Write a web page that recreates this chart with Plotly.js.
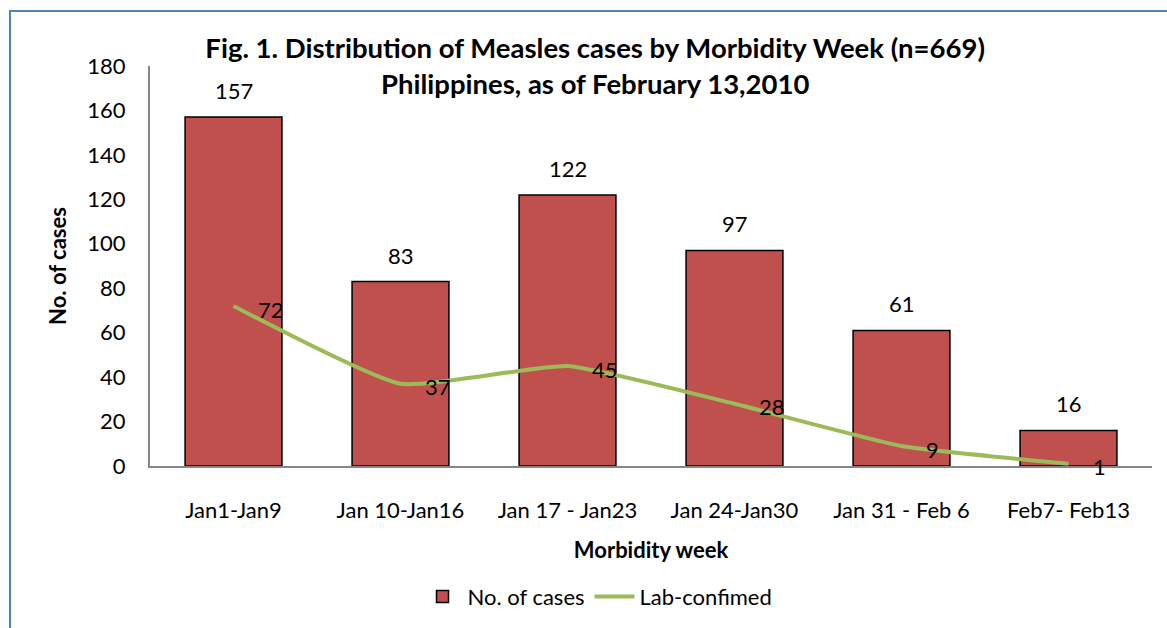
<!DOCTYPE html>
<html>
<head>
<meta charset="utf-8">
<script src="https://cdn.plot.ly/plotly-3.0.1.min.js"></script>
<style>
  body { margin: 0; background: #fff; }
  #frame { position: absolute; left: 9px; top: 10px; width: 1300px; height: 700px;
           border-left: 2px solid #4F81BD; border-top: 2px solid #4F81BD; }
  #chart { position: absolute; left: 0; top: 0; width: 1167px; height: 628px; }
</style>
</head>
<body>
<div id="frame"></div>
<div id="chart"></div>
<script>
var weeks = ['Jan1-Jan9', 'Jan 10-Jan16', 'Jan 17 - Jan23', 'Jan 24-Jan30', 'Jan 31 - Feb 6', 'Feb7- Feb13'];
var cases = [157, 83, 122, 97, 61, 16];
var labConfirmed = [72, 37, 45, 28, 9, 1];

var font = 'Lato, "Open Sans", sans-serif';

var traces = [];
traces.push({
    x: weeks,
    y: cases,
    type: 'bar',
    name: 'No. of cases',
    marker: {
        color: '#C0504D',
        line: {color: '#000000', width: 1.5}
    }
});
traces.push({
    x: weeks,
    y: labConfirmed,
    type: 'scatter',
    mode: 'lines',
    name: 'Lab-confimed',
    line: {color: '#9BBB59', width: 4, shape: 'spline', smoothing: 0.45}
});

var annotations = [];
for (var i = 0; i < weeks.length; i++) {
    annotations.push({
        x: weeks[i], y: cases[i], text: String(cases[i]),
        showarrow: false, yanchor: 'bottom', yshift: 11,
        font: {family: font, size: 22, color: '#000'}
    });
    annotations.push({
        x: weeks[i], y: labConfirmed[i], text: String(labConfirmed[i]),
        showarrow: false, xanchor: 'left', yanchor: 'middle', xshift: 22, yshift: -3,
        font: {family: font, size: 22, color: '#000'}
    });
}

var layout = {
    width: 1167,
    height: 628,
    paper_bgcolor: 'rgba(0,0,0,0)',
    plot_bgcolor: 'rgba(0,0,0,0)',
    margin: {l: 150, r: 15, t: 66, b: 162},
    font: {family: font, size: 22, color: '#000'},
    bargap: 0.42,
    title: {
        text: '<b>Fig. 1. Distribution of Measles cases by Morbidity Week (n=669)<br>Philippines, as of February 13,2010</b>',
        font: {family: font, size: 27.5, color: '#000'},
        xref: 'container', x: 0.51, xanchor: 'center',
        yref: 'container', y: 0.907, yanchor: 'middle'
    },
    xaxis: {
        showline: true, linecolor: '#868686', linewidth: 2,
        ticks: '', ticklabelstandoff: 24,
        tickfont: {family: font, size: 22},
        title: {text: '<b>Morbidity week</b>', font: {family: font, size: 22}, standoff: 20}
    },
    yaxis: {
        range: [0, 180], dtick: 20,
        showline: true, linecolor: '#868686', linewidth: 2,
        showgrid: false, zeroline: false,
        ticks: '', ticklabelstandoff: 18,
        tickfont: {family: font, size: 22},
        title: {text: '<b>No. of cases</b>', font: {family: font, size: 22}, standoff: 15}
    },
    showlegend: true,
    legend: {
        orientation: 'h',
        xref: 'container', x: 0.512, xanchor: 'center',
        yref: 'container', y: 0.05, yanchor: 'middle',
        font: {family: font, size: 22},
        itemwidth: 40,
        traceorder: 'normal'
    },
    annotations: annotations
};

Plotly.newPlot('chart', traces, layout, {displayModeBar: false});
</script>
</body>
</html>
